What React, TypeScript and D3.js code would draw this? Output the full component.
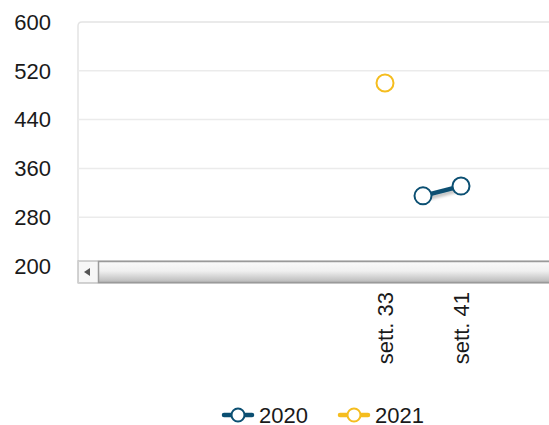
import * as d3 from 'd3'

const WIDTH = 549
const HEIGHT = 425
const PLOT = { left: 78, top: 22, right: 560, bottom: 266 }

const Y_TICKS = [200, 280, 360, 440, 520, 600]
const X_TICK_WEEKS = [33, 41]
const X_TICK_LABELS = ['sett. 33', 'sett. 41']

const SERIES_2020_WEEKS = [37, 41]
const SERIES_2020_VALUES = [315, 331]
const SERIES_2021_WEEKS = [33]
const SERIES_2021_VALUES = [500]

const COLOR_2020 = '#0b4f72'
const COLOR_2021 = '#f5bd1f'
const FONT = 'Arial, "Liberation Sans", sans-serif'
const FS = 22

export default function App() {
  const x = d3.scaleLinear().domain([33, 41]).range([385, 461])
  const y = d3.scaleLinear().domain([200, 600]).range([PLOT.bottom, PLOT.top])

  const pts2020 = SERIES_2020_WEEKS.map((w, i) => [x(w), y(SERIES_2020_VALUES[i])] as [number, number])
  const pts2021 = SERIES_2021_WEEKS.map((w, i) => [x(w), y(SERIES_2021_VALUES[i])] as [number, number])
  const line = d3.line()

  const sbTop = 261
  const sbBottom = 283

  return (
    <div style={{ position: 'absolute', left: 0, top: 0 }}>
      <svg width={WIDTH} height={HEIGHT} style={{ display: 'block', fontFamily: FONT }}>
        <defs>
          <linearGradient id="thumb" x1="0" x2="0" y1="0" y2="1">
            <stop offset="0%" stopColor="#fbfbfb" />
            <stop offset="45%" stopColor="#f0f0f0" />
            <stop offset="100%" stopColor="#b8b8b8" />
          </linearGradient>
          <filter id="shadow" x="-20%" y="-50%" width="140%" height="200%">
            <feGaussianBlur in="SourceAlpha" stdDeviation="1.5" />
            <feOffset dx="1" dy="3" />
            <feComponentTransfer>
              <feFuncA type="linear" slope="0.25" />
            </feComponentTransfer>
            <feMerge>
              <feMergeNode />
              <feMergeNode in="SourceGraphic" />
            </feMerge>
          </filter>
        </defs>
        <rect width={WIDTH} height={HEIGHT} fill="#ffffff" />

        {/* plot frame */}
        <path
          d={`M${PLOT.left},${sbTop} L${PLOT.left},${PLOT.top + 4} Q${PLOT.left},${PLOT.top} ${PLOT.left + 4},${PLOT.top} L${WIDTH},${PLOT.top}`}
          fill="none"
          stroke="#e4e4e4"
          strokeWidth={1.5}
        />

        {Y_TICKS.map((t) => (
          <g key={t}>
            {t > 200 && t < 600 && (
              <line x1={PLOT.left} x2={WIDTH} y1={y(t)} y2={y(t)} stroke="#ebebeb" strokeWidth={1.5} />
            )}
            <text x={51} y={y(t)} dy="0.35em" textAnchor="end" fontSize={FS} fill="#1a1a1a">
              {t}
            </text>
          </g>
        ))}

        {/* 2021 */}
        {pts2021.map((p, i) => (
          <circle key={i} cx={p[0]} cy={p[1]} r={8.5} fill="#fff" stroke={COLOR_2021} strokeWidth={2} />
        ))}

        {/* 2020 */}
        <path d={line(pts2020) ?? undefined} fill="none" stroke={COLOR_2020} strokeWidth={4.5} filter="url(#shadow)" />
        {pts2020.map((p, i) => (
          <circle key={i} cx={p[0]} cy={p[1]} r={8.5} fill="#fff" stroke={COLOR_2020} strokeWidth={2} />
        ))}

        {/* scrollbar */}
        <rect x={PLOT.left} y={sbTop} width={WIDTH - PLOT.left + 2} height={sbBottom - sbTop} fill="#f4f4f4" stroke="#a8a8a8" strokeWidth={1} />
        <rect x={PLOT.left + 0.5} y={sbTop + 0.5} width={20} height={sbBottom - sbTop - 1} fill="#f7f7f7" stroke="#cfcfcf" strokeWidth={1} />
        <path d={`M${PLOT.left + 6},${(sbTop + sbBottom) / 2} L${PLOT.left + 12},${(sbTop + sbBottom) / 2 - 4} L${PLOT.left + 12},${(sbTop + sbBottom) / 2 + 4} Z`} fill="#555" />
        <rect x={PLOT.left + 20.5} y={sbTop + 0.5} width={WIDTH - PLOT.left} height={sbBottom - sbTop - 1} fill="url(#thumb)" stroke="#9a9a9a" strokeWidth={1.5} />

        {/* x labels */}
        {X_TICK_WEEKS.map((w, i) => (
          <text
            key={w}
            transform={`translate(${x(w)},${292}) rotate(-90)`}
            dy="0.35em"
            textAnchor="end"
            fontSize={FS}
            fill="#1a1a1a"
          >
            {X_TICK_LABELS[i]}
          </text>
        ))}

        {/* legend */}
        <g>
          <line x1={224} x2={252} y1={415} y2={415} stroke={COLOR_2020} strokeWidth={4.5} strokeLinecap="round" />
          <circle cx={238} cy={415} r={6.5} fill="#fff" stroke={COLOR_2020} strokeWidth={2} />
          <text x={259} y={415} dy="0.35em" fontSize={FS} fill="#1a1a1a">2020</text>
          <line x1={340} x2={368} y1={415} y2={415} stroke={COLOR_2021} strokeWidth={4.5} strokeLinecap="round" />
          <circle cx={354} cy={415} r={6.5} fill="#fff" stroke={COLOR_2021} strokeWidth={2} />
          <text x={375} y={415} dy="0.35em" fontSize={FS} fill="#1a1a1a">2021</text>
        </g>
      </svg>
    </div>
  )
}
